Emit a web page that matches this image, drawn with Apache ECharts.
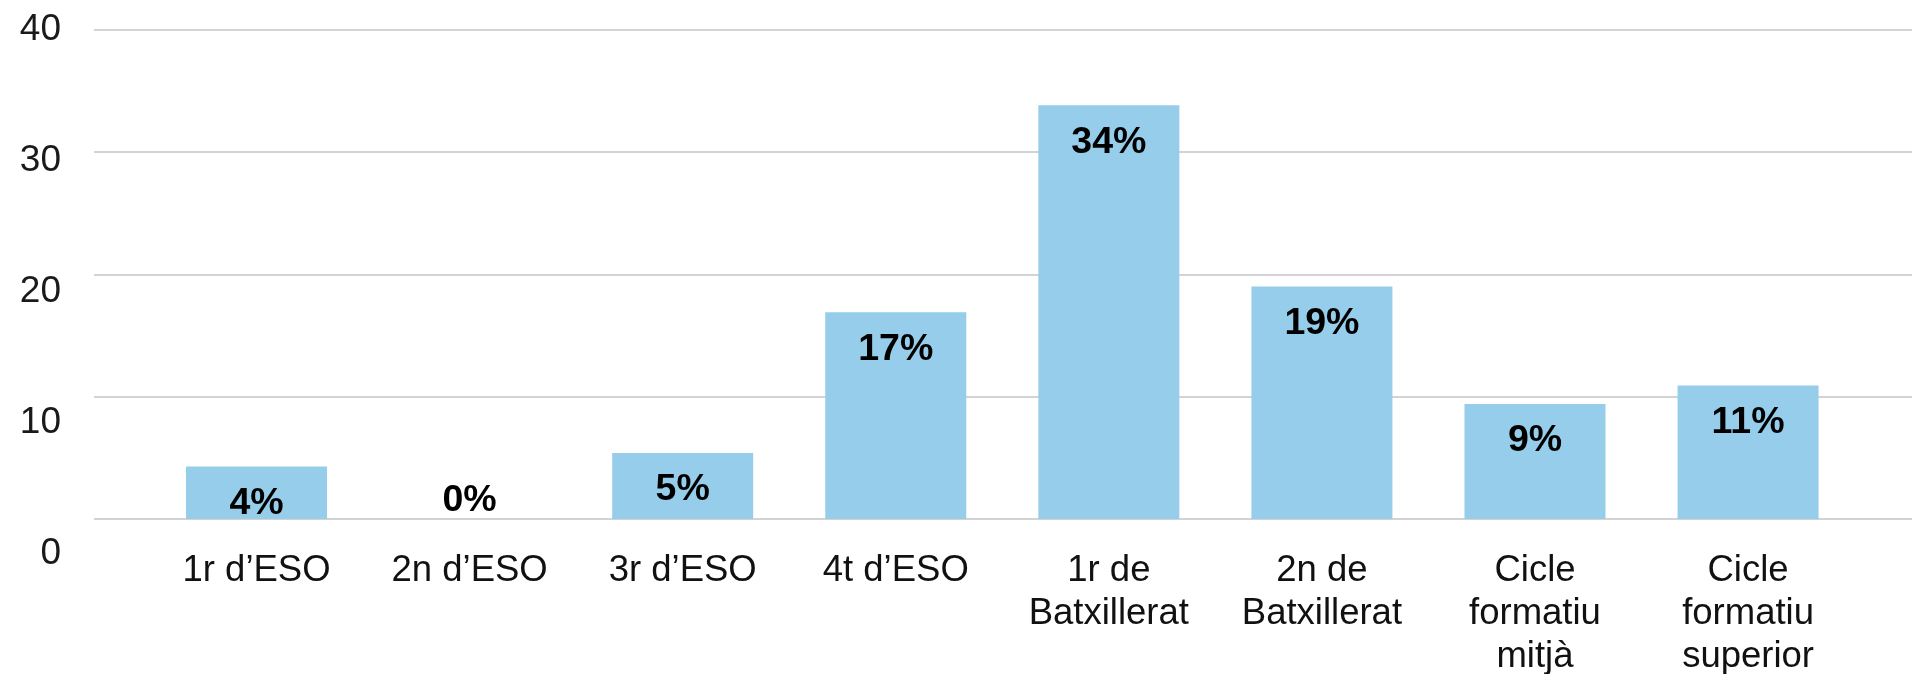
<!DOCTYPE html>
<html>
<head>
<meta charset="utf-8">
<script src="https://cdn.jsdelivr.net/npm/echarts@6/dist/echarts.min.js"></script>
<style>
  html, body { margin: 0; padding: 0; background: #fff; }
  #chart { width: 1912px; height: 674px; }
</style>
</head>
<body>
<div id="chart"></div>
<script>
const categories = [
  "1r d’ESO",
  "2n d’ESO",
  "3r d’ESO",
  "4t d’ESO",
  "1r de\nBatxillerat",
  "2n de\nBatxillerat",
  "Cicle\nformatiu\nmitjà",
  "Cicle\nformatiu\nsuperior",
];
const values = [4.3, 0, 5.4, 16.9, 33.8, 19.0, 9.4, 10.9];
const yMin = 0;
const yMax = 40;
const yStep = 10;

const font = '"Liberation Sans", Arial, sans-serif';
const barColor = "#95cdeb";

const chart = echarts.init(document.getElementById("chart"), null, { renderer: "canvas" });

// a zero bar gets its label sitting on the baseline
const barData = values.map((v) =>
  v === 0 ? { value: v, label: { position: "insideBottom", distance: -1 } } : v
);

chart.setOption({
  animation: false,
  backgroundColor: "#fff",
  grid: [
    // grid lines
    { left: 94, right: 0, top: 29.5, height: 489.5, outerBoundsMode: "none" },
    // bars
    { left: 150, right: 57.4, top: 29.5, height: 489.5, outerBoundsMode: "none" },
    // tick labels
    { left: 94, right: 0, top: 30, height: 524, outerBoundsMode: "none" },
  ],
  xAxis: [
    { gridIndex: 0, type: "value", show: false },
    {
      gridIndex: 1,
      type: "category",
      data: categories,
      axisLine: { show: false },
      axisTick: { show: false },
      axisLabel: {
        margin: 30,
        fontFamily: font,
        fontSize: 36.5,
        lineHeight: 43,
        color: "#111",
        verticalAlign: "top",
        interval: 0,
      },
    },
    { gridIndex: 2, type: "value", show: false },
  ],
  yAxis: [
    {
      gridIndex: 0,
      type: "value",
      min: yMin,
      max: yMax,
      interval: yStep,
      axisLine: { show: false },
      axisTick: { show: false },
      axisLabel: { show: false },
      splitLine: { lineStyle: { color: "#c4c4c4", width: 1.5 } },
    },
    {
      gridIndex: 1,
      type: "value",
      min: yMin,
      max: yMax,
      interval: yStep,
      show: false,
      splitLine: { show: false },
    },
    {
      gridIndex: 2,
      type: "value",
      min: yMin,
      max: yMax,
      interval: yStep,
      axisLine: { show: false },
      axisTick: { show: false },
      splitLine: { show: false },
      axisLabel: {
        margin: 33,
        fontFamily: font,
        fontSize: 37,
        color: "#1a1a1a",
      },
    },
  ],
  series: [
    {
      type: "bar",
      xAxisIndex: 1,
      yAxisIndex: 1,
      data: barData,
      barWidth: 141,
      itemStyle: { color: barColor },
      label: {
        show: true,
        position: "insideTop",
        distance: 18,
        fontFamily: font,
        fontSize: 37.5,
        fontWeight: "bold",
        color: "#000",
        formatter: (p) => Math.round(p.value) + "%",
      },
    },
  ],
});
</script>
</body>
</html>
